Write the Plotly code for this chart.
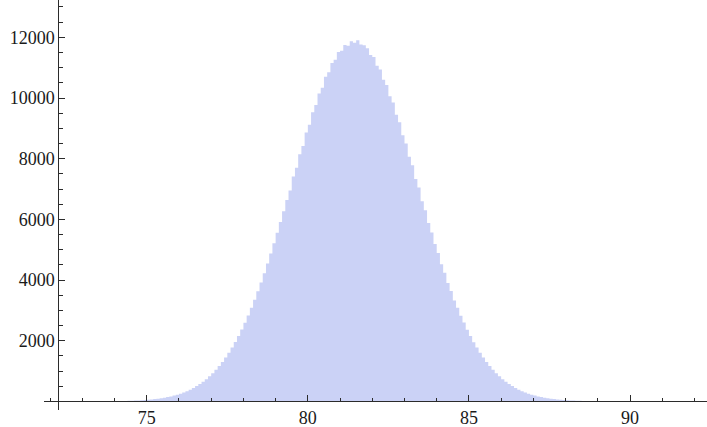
import plotly.graph_objects as go

# Histogram bins (left edges, width 0.1) and counts
bin_left = [round(73.9 + 0.1 * i, 2) for i in range(151)]
counts = [
    7, 9, 11, 13, 16, 19, 23, 27, 32, 39,
    46, 54, 64, 76, 89, 104, 122, 142, 165, 192,
    222, 256, 295, 339, 388, 443, 504, 573, 649, 734,
    827, 930, 1042, 1165, 1299, 1446, 1604, 1775, 1959, 2156,
    2367, 2592, 2830, 3083, 3349, 3629, 3922, 4227, 4544, 4872,
    5210, 5556, 5910, 6271, 6636, 6950, 7410, 7700, 8150, 8420,
    8860, 9120, 9530, 9770, 10150, 10340, 10700, 10850, 11150, 11260,
    11520, 11560, 11750, 11720, 11870, 11820, 11900, 11760, 11740, 11640,
    11420, 11350, 11060, 10940, 10600, 10430, 10060, 9850, 9450, 9200,
    8770, 8500, 8060, 7780, 7330, 7050, 6600, 6300, 5880, 5570,
    5190, 4890, 4520, 4240, 3900, 3640, 3330, 3090, 2820, 2600,
    2360, 2160, 1950, 1780, 1600, 1450, 1295, 1165, 1040, 930,
    827, 734, 649, 573, 504, 443, 388, 339, 295, 256,
    222, 192, 165, 142, 122, 104, 89, 76, 64, 54,
    46, 39, 32, 27, 23, 19, 16, 13, 11, 9,
    7,
]
bin_width = 0.1
x_major = [75, 80, 85, 90]
y_major = [2000, 4000, 6000, 8000, 10000, 12000]

# step outline of the histogram: each count holds over its bin, then drop to 0
step_x = bin_left + [round(bin_left[-1] + bin_width, 2)]
step_y = counts + [0]

fig = go.Figure(go.Scatter(
    x=step_x, y=step_y, mode="lines", line=dict(shape="hv", width=0, color="rgb(203,210,246)"),
    fill="tozeroy", fillcolor="rgb(203,210,246)", hoverinfo="skip",
))

axis_col = "#2b2b2b"
font = dict(family="Liberation Serif, Times New Roman, serif", size=18, color="#1a1a1a")

fig.update_layout(
    width=707, height=427,
    margin=dict(l=44, r=0, t=0, b=17),
    paper_bgcolor="white", plot_bgcolor="white",
    showlegend=False,
    font=font,
    xaxis=dict(
        range=[71.81, 92.39], anchor="free", position=0.021,
        showgrid=False, zeroline=False,
        showline=True, linecolor=axis_col, linewidth=1,
        tickmode="array", tickvals=x_major, ticktext=[str(v) for v in x_major],
        ticks="inside", ticklen=6, tickcolor=axis_col, tickwidth=1,
        minor=dict(tickmode="linear", tick0=0, dtick=1, ticks="inside",
                   ticklen=3, tickcolor=axis_col, tickwidth=1, showgrid=False),
        tickfont=font, automargin=False,
    ),
    yaxis=dict(
        range=[-283, 13230], anchor="free", position=0.0216,
        showgrid=False, zeroline=False,
        showline=True, linecolor=axis_col, linewidth=1,
        tickmode="array", tickvals=y_major, ticktext=[str(v) for v in y_major],
        ticks="inside", ticklen=6, tickcolor=axis_col, tickwidth=1,
        minor=dict(tickmode="linear", tick0=0, dtick=500, ticks="inside",
                   ticklen=4, tickcolor=axis_col, tickwidth=1, showgrid=False),
        tickfont=font, automargin=False,
    ),
)

fig.write_html(
    "out.html",
    config={"displayModeBar": False, "staticPlot": True},
    post_script="document.body.style.margin='0';document.body.style.overflow='hidden';",
)
